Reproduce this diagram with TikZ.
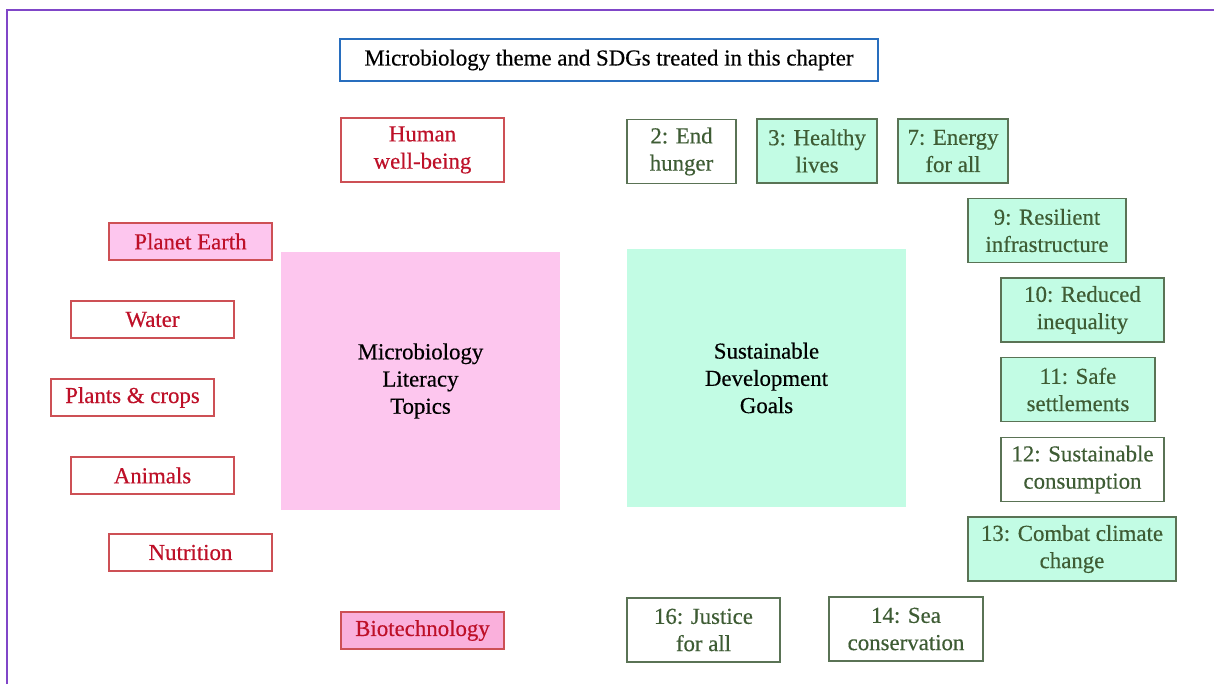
\documentclass[tikz,border=0pt]{standalone}
\usepackage{fontspec}
\setmainfont{Liberation Serif}[FakeBold=0.4]
\usepackage{xcolor}
\usepackage{tikz}
\definecolor{framepurple}{RGB}{128,70,200}
\definecolor{titleblue}{RGB}{40,110,190}
\definecolor{topicred}{RGB}{190,16,40}
\definecolor{topicline}{RGB}{205,80,85}
\definecolor{topicpink}{RGB}{253,198,238}
\definecolor{biopink}{RGB}{250,176,220}
\definecolor{sdggreen}{RGB}{194,252,228}
\definecolor{sdgtext}{RGB}{62,92,52}
\definecolor{sdgline}{RGB}{90,115,85}
\tikzset{
  box/.style={draw,line width=1pt,align=center,inner sep=2pt,
              font=\fontsize{13}{15.5}\selectfont},
  titlebox/.style={box,draw=titleblue,fill=white,minimum width=10.76cm,
                   minimum height=0.84cm,font=\fontsize{13}{15}\selectfont},
  topic/.style={box,draw=topicline,text=topicred,fill=white,
                minimum width=3.26cm,minimum height=0.74cm},
  topicfill/.style={topic,fill=topicpink},
  topicbio/.style={topic,fill=biopink},
  sdg/.style={box,draw=sdgline,text=sdgtext,fill=white,minimum height=1.28cm},
  sdgfill/.style={sdg,fill=sdggreen},
  bigsquare/.style={align=center,minimum width=5.58cm,minimum height=5.16cm,
                    font=\fontsize{13}{15.5}\selectfont},
  frame/.style={draw=framepurple,line width=1pt},
}

\begin{document}
\begin{tikzpicture}[x=0.02cm,y=-0.02cm]
  \useasboundingbox (0,0) rectangle (1214,684);
  % --- slide frame ---
  \draw[frame] (7,684) -- (7,10) -- (1214,10);
  % --- title ---
  \node[titlebox] (title) at (609,60)
       {Microbiology theme and SDGs treated in this chapter};
  % --- central squares ---
  \node[bigsquare,fill=topicpink] (topics) at (420.5,381)
       {Microbiology\\Literacy\\Topics};
  \node[bigsquare,fill=sdggreen] (goals) at (766.5,378)
       {Sustainable\\Development\\Goals};
  % --- microbiology topics ---
  \node[topic,minimum height=1.28cm] (wellbeing) at (422.5,150) {Human\\well-being};
  \node[topicfill] (earth) at (190.5,241.5) {Planet Earth};
  \foreach \n/\x/\y/\lab in {water/152.5/319.5/Water,
                             plants/132.5/397.5/{Plants \& crops},
                             animals/152.5/475.5/Animals,
                             nutrition/190.5/552.5/Nutrition} {
    \node[topic] (\n) at (\x,\y) {\lab};
  }
  \node[topicbio] (biotech) at (422.5,630.5) {Biotechnology};
  % --- SDG boxes (white = not filled) ---
  \foreach \n/\x/\y/\w/\lab in {2/681.5/151.5/2.18/{2: End\\hunger},
                                12/1082.5/469.5/3.26/{12: Sustainable\\consumption},
                                16/703.5/630/3.06/{16: Justice\\for all},
                                14/906/629/3.08/{14: Sea\\conservation}} {
    \node[sdg,minimum width=\w cm] (sdg\n) at (\x,\y) {\lab};
  }
  % --- SDG boxes (green) ---
  \foreach \n/\x/\y/\w/\lab in {3/817/151/2.40/{3: Healthy\\lives},
                                7/953/151/2.20/{7: Energy\\for all},
                                9/1047/230.5/3.16/{9: Resilient\\infrastructure},
                                10/1082.5/310/3.26/{10: Reduced\\inequality},
                                11/1078/389.5/3.08/{11: Safe\\settlements},
                                13/1072/549/4.16/{13: Combat climate\\change}} {
    \node[sdgfill,minimum width=\w cm] (sdg\n) at (\x,\y) {\lab};
  }
\end{tikzpicture}
\end{document}
